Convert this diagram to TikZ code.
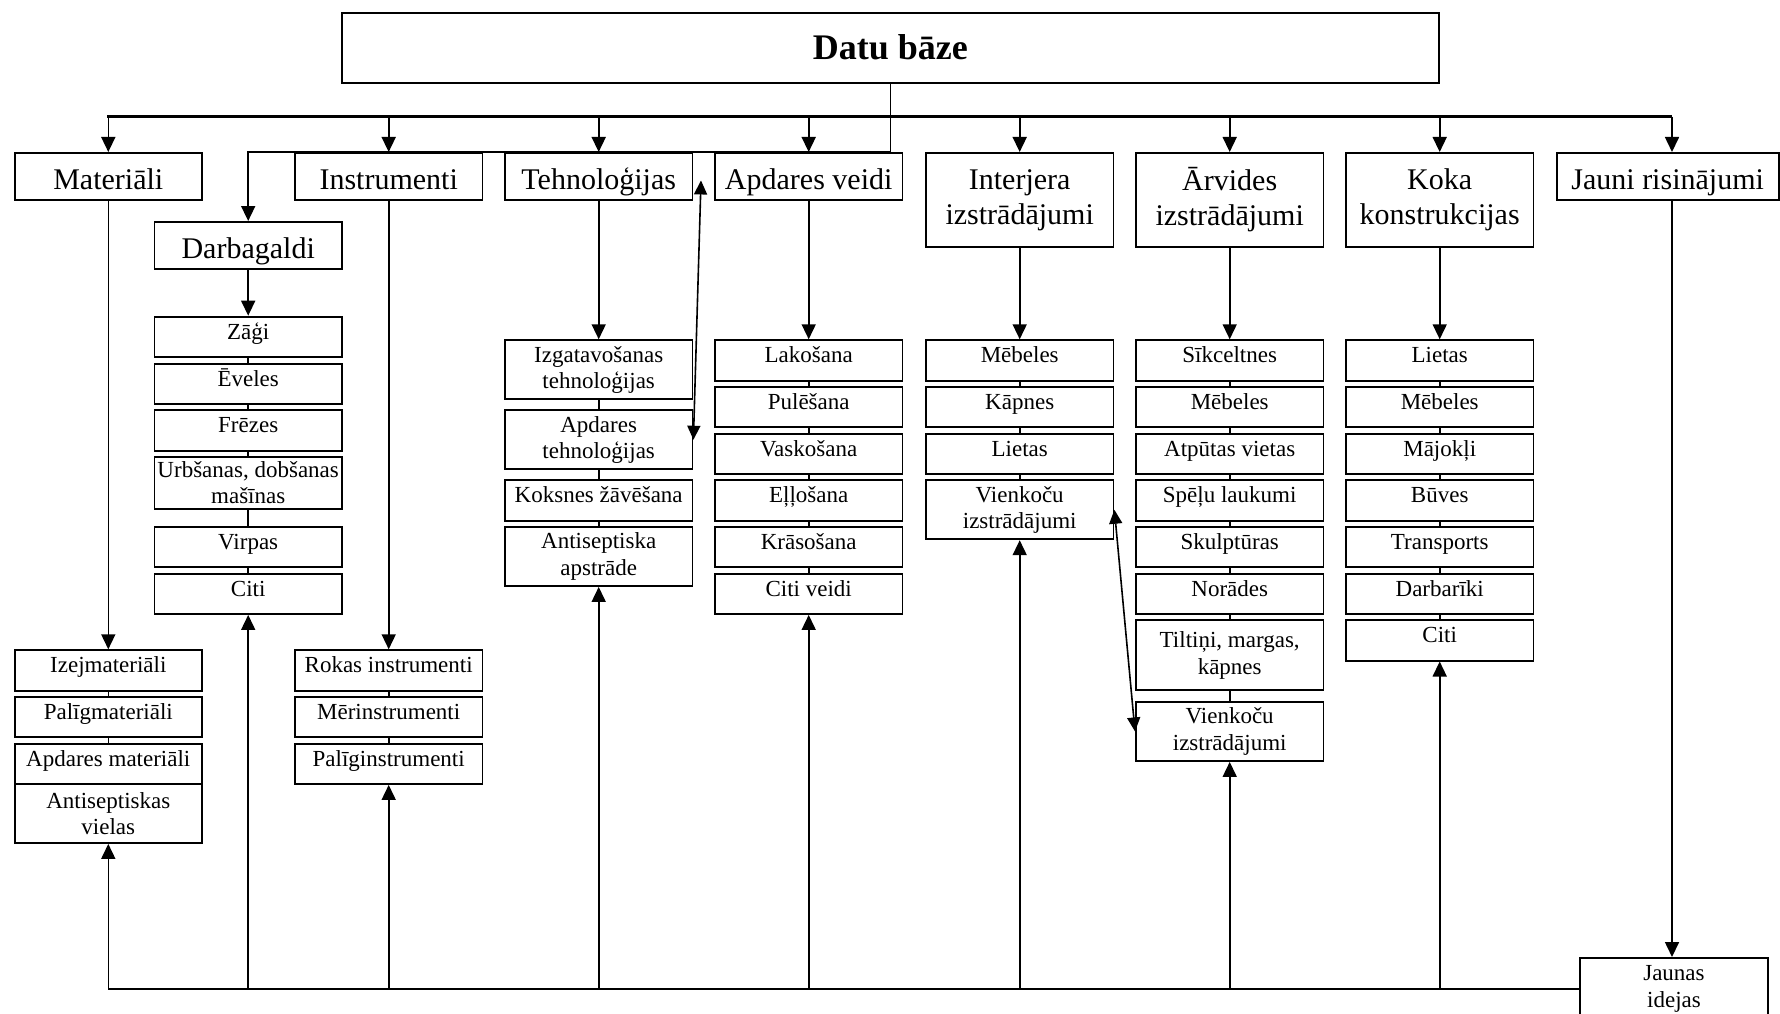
\documentclass[tikz,border=0pt]{standalone}
\usepackage{fontspec}
\setmainfont{Liberation Serif}
\usetikzlibrary{arrows.meta,calc}
\begin{document}
\begin{tikzpicture}[x=1pt,y=-1pt,
 box/.style={draw, line width=1.9pt, inner sep=0pt, anchor=north west, minimum width=187.5pt, align=center},
 big/.style={box, font=\fontsize{30}{35}\selectfont},
 bigone/.style={big, text height=37pt, text depth=10pt},
 bigtwo/.style={big, minimum height=94pt},
 sm/.style={box, font=\fontsize{23}{26.5}\selectfont},
 one/.style={sm, text height=22.4pt, text depth=17.9pt},
 two/.style={sm, minimum height=59pt},
 link/.style={line width=1.6pt},
 arr/.style={line width=1.6pt, -{Triangle[length=15pt,width=14pt]}},
 dbl/.style={line width=1.6pt, {Triangle[length=14pt,width=13pt]}-{Triangle[length=14pt,width=13pt]}},
 bus/.style={line width=2.4pt},
]
\useasboundingbox (0,0) rectangle (1780,1014);

% title
\node[box, minimum width=1097.7pt, minimum height=70pt, font=\bfseries\fontsize{36}{40}\selectfont] (datu) at (340.6,11.7) {Datu bāze};

% first row
\node[bigone] (mat) at (13.6,152) {Materiāli};
\node[bigone] (ins) at (294,152) {Instrumenti};
\node[bigone] (teh) at (504,152) {Tehnoloģijas};
\node[bigone] (apv) at (714,152) {Apdares veidi};
\node[bigtwo] (int) at (925,152) {Interjera\\izstrādājumi};
\node[bigtwo] (arv) at (1135,152) {Ārvides\\izstrādājumi};
\node[bigtwo] (kok) at (1345,152) {Koka\\konstrukcijas};
\node[bigone, minimum width=222pt] (jau) at (1555.7,152) {Jauni risinājumi};
\node[bigone] (darb) at (153.5,221) {Darbagaldi};

% Darbagaldi list
\node[one] (d1) at (153.5,315.7) {Zāģi};
\node[one] (d2) at (153.5,362.7) {Ēveles};
\node[one] (d3) at (153.5,409.3) {Frēzes};
\node[sm, minimum height=52pt] (d4) at (153.5,455.7) {Urbšanas, dobšanas\\mašīnas};
\node[one] (d5) at (153.5,526) {Virpas};
\node[one] (d6) at (153.5,572.7) {Citi};

% Materiali list
\node[one] (m1) at (13.6,649.3) {Izejmateriāli};
\node[one] (m2) at (13.6,696) {Palīgmateriāli};
\node[one] (m3) at (13.6,742.7) {Apdares materiāli};
\node[two] (m4) at (13.6,783) {Antiseptiskas\\vielas};

% Instrumenti list
\node[one] (i1) at (294,649.3) {Rokas instrumenti};
\node[one] (i2) at (294,696) {Mērinstrumenti};
\node[one] (i3) at (294,742.7) {Palīginstrumenti};

% Tehnologijas list
\node[two] (t1) at (504,339.3) {Izgatavošanas\\tehnoloģijas};
\node[two] (t2) at (504,409.3) {Apdares\\tehnoloģijas};
\node[one] (t3) at (504,479.3) {Koksnes žāvēšana};
\node[two] (t4) at (504,526) {Antiseptiska\\apstrāde};

% Apdares veidi list
\node[one] (a1) at (714,339.3) {Lakošana};
\node[one] (a2) at (714,386) {Pulēšana};
\node[one] (a3) at (714,432.7) {Vaskošana};
\node[one] (a4) at (714,479.3) {Eļļošana};
\node[one] (a5) at (714,526) {Krāsošana};
\node[one] (a6) at (714,572.7) {Citi veidi};

% Interjera list
\node[one] (n1) at (925,339.3) {Mēbeles};
\node[one] (n2) at (925,386) {Kāpnes};
\node[one] (n3) at (925,432.7) {Lietas};
\node[two] (n4) at (925,479.3) {Vienkoču\\izstrādājumi};

% Arvides list
\node[one] (r1) at (1135,339.3) {Sīkceltnes};
\node[one] (r2) at (1135,386) {Mēbeles};
\node[one] (r3) at (1135,432.7) {Atpūtas vietas};
\node[one] (r4) at (1135,479.3) {Spēļu laukumi};
\node[one] (r5) at (1135,526) {Skulptūras};
\node[one] (r6) at (1135,572.7) {Norādes};
\node[sm, minimum height=70pt] (r7) at (1135,619.3) {Tiltiņi, margas,\\kāpnes};
\node[two] (r8) at (1135,701) {Vienkoču\\izstrādājumi};

% Koka list
\node[one] (k1) at (1345,339.3) {Lietas};
\node[one] (k2) at (1345,386) {Mēbeles};
\node[one] (k3) at (1345,432.7) {Mājokļi};
\node[one] (k4) at (1345,479.3) {Būves};
\node[one] (k5) at (1345,526) {Transports};
\node[one] (k6) at (1345,572.7) {Darbarīki};
\node[one] (k7) at (1345,619.3) {Citi};

% new ideas
\node[sm, minimum width=188pt, minimum height=61.5pt] (jid) at (1579,957) {Jaunas\\idejas};

% bus from title
\coordinate (busL) at (107.3,116.7);
\coordinate (busR) at (1672,116.7);
\draw[bus] (busL) -- (busR);
\draw[arr] (datu.south) -- (datu.south |- apv.north) -| (darb.north);
\foreach \n in {mat,ins,teh,apv,int,arv,kok} \draw[arr] (\n.north |- busL) -- (\n.north);
\draw[arr] (busR) -- (busR |- jau.north);

% down into lists
\foreach \a/\b in {mat/m1,ins/i1,teh/t1,apv/a1,int/n1,arv/r1,kok/k1,darb/d1} \draw[arr] (\a) -- (\b);
\draw[arr] (busR |- jau.south) -- (busR |- jid.north);

% chains
\foreach \a/\b in {d1/d2,d2/d3,d3/d4,d4/d5,d5/d6,m1/m2,m2/m3,i1/i2,i2/i3,t1/t2,t2/t3,t3/t4,a1/a2,a2/a3,a3/a4,a4/a5,a5/a6,n1/n2,n2/n3,n3/n4,r1/r2,r2/r3,r3/r4,r4/r5,r5/r6,r6/r7,r7/r8,k1/k2,k2/k3,k3/k4,k4/k5,k5/k6,k6/k7} \draw[link] (\a) -- (\b);

% bottom line
\draw[bus] (jid.west) -- (m4.south |- jid.west);
\foreach \n in {m4,d6,i3,t4,a6,n4,r8,k7} \draw[arr] (\n.south |- jid.west) -- (\n.south);

% double arrows
\coordinate (apvin) at ($(apv.west)+(-13,4)$);
\draw[dbl] (t2.east) -- (apvin);
\draw[dbl] (n4.east) -- (r8.west);
\end{tikzpicture}
\end{document}
